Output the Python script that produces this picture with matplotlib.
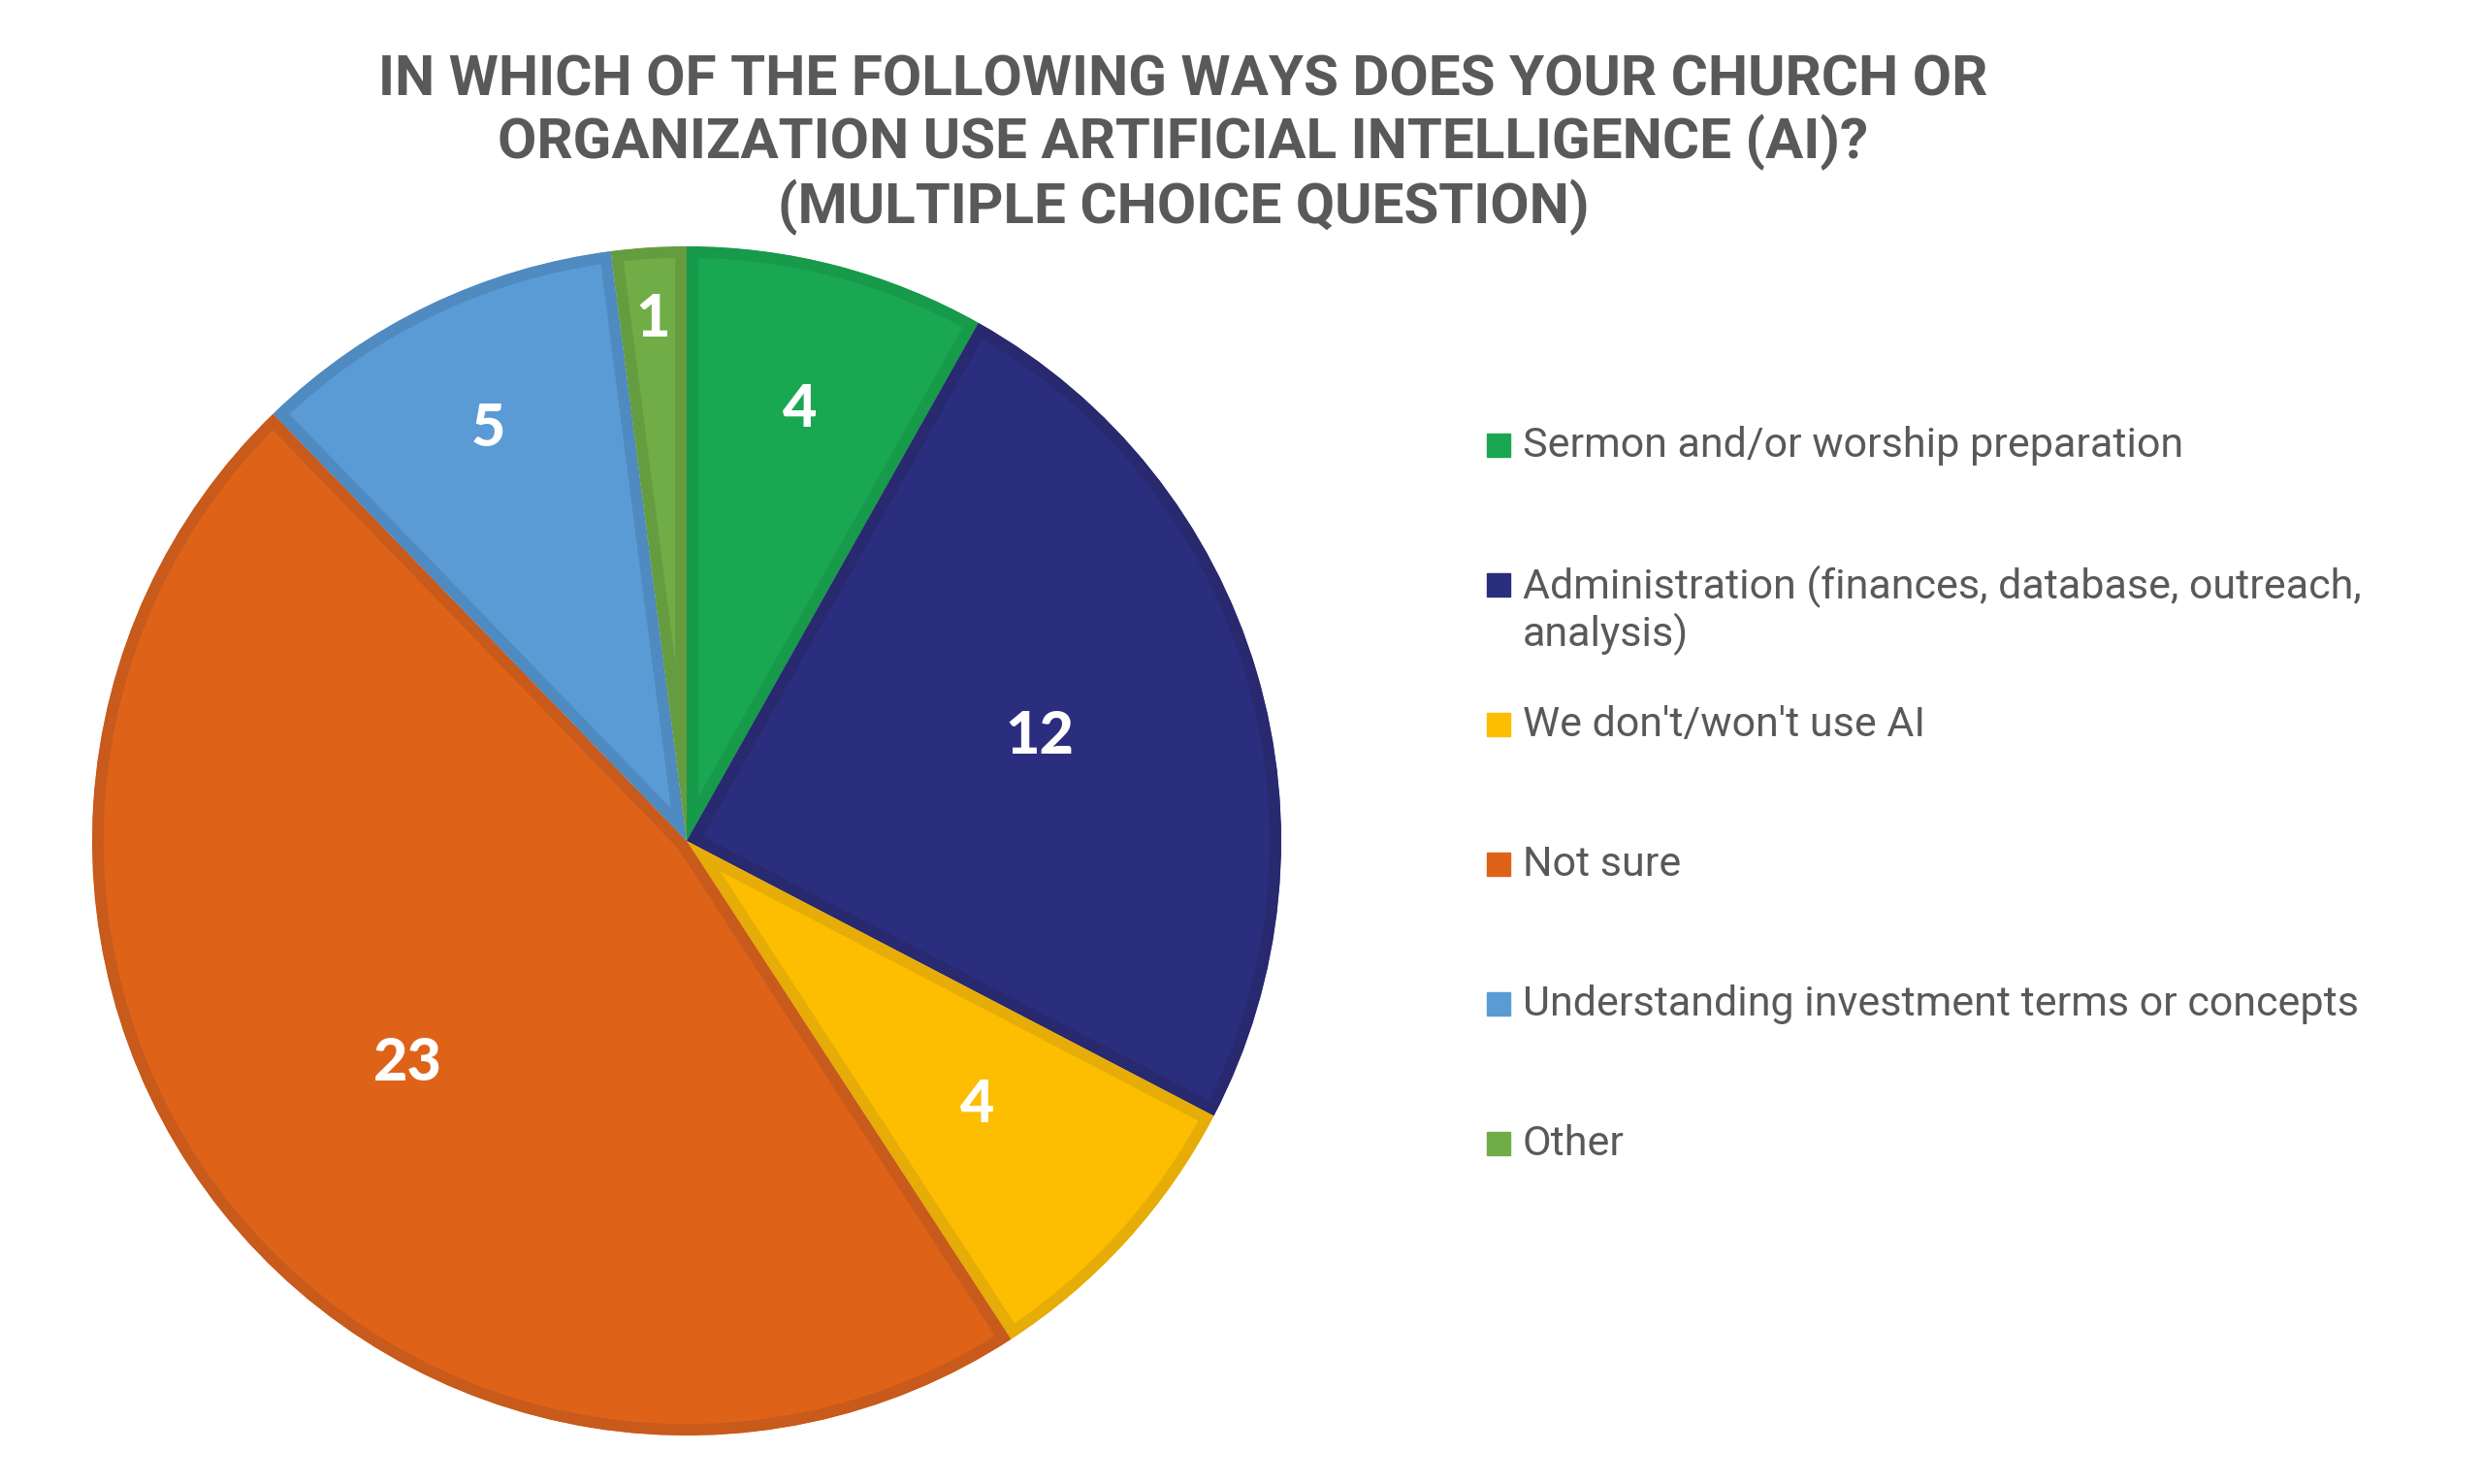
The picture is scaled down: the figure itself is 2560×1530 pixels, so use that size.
"""Pie chart: ways churches/organizations use AI (multiple choice)."""
import matplotlib.pyplot as plt
import numpy as np
from matplotlib.patches import Rectangle

CATEGORIES = [
    "Sermon and/or worship preparation",
    "Administration (finances, database, outreach,\nanalysis)",
    "We don't/won't use AI",
    "Not sure",
    "Understanding investment terms or concepts",
    "Other",
]
COUNTS = [4, 12, 4, 23, 5, 1]

FILLS = ["#1AA752", "#2B2D7E", "#FDBD00", "#DE6319", "#5B9BD5", "#70AD47"]
EDGES = ["#179A4A", "#28296F", "#E6AC07", "#C85A1B", "#4F8AC0", "#669C40"]
# radial position of each value label, as a fraction of the radius
LABEL_R = [0.75, 0.62, 0.66, 0.60, 0.77, 0.88]

TITLE = ("IN WHICH OF THE FOLLOWING WAYS DOES YOUR CHURCH OR\n"
         "ORGANIZATION USE ARTIFICIAL INTELLIGENCE (AI)?\n"
         "(MULTIPLE CHOICE QUESTION)")

GREY = "#595959"
W, H = 2560, 1530

fig = plt.figure(figsize=(W / 100, H / 100), dpi=100)

cx, cy, r = 708, 867, 613
ax = fig.add_axes([(cx - r) / W, (H - cy - r) / H, 2 * r / W, 2 * r / H])
wedges, _ = ax.pie(COUNTS, colors=FILLS, startangle=90, counterclock=False,
                   radius=1.0,
                   wedgeprops=dict(linewidth=17, joinstyle="round"))
for w, ec in zip(wedges, EDGES):
    w.set_edgecolor(ec)
    # keep only the inner half of the outline (Excel-style inner border)
    w.set_clip_on(True)
    w.set_clip_path(w.get_path(), w.get_transform())

for w, v, lr in zip(wedges, COUNTS, LABEL_R):
    ang = np.deg2rad((w.theta1 + w.theta2) / 2)
    ax.text(lr * np.cos(ang), lr * np.sin(ang), str(v), ha="center",
            va="center", color="white", fontsize=44, fontweight="black",
            family="Lato")
ax.set_xlim(-1, 1)
ax.set_ylim(-1, 1)
ax.set_aspect("equal")
ax.axis("off")

fig.text(1220 / W, 1 - 149 / H, TITLE, ha="center", va="center",
         fontsize=42, fontweight="bold", color=GREY, family="Roboto",
         linespacing=1.17)

# legend, drawn as fixed rows
row0, step, line_h = 459, 144, 51
for i, (lab, col) in enumerate(zip(CATEGORIES, FILLS)):
    yc = row0 + i * step
    fig.patches.append(Rectangle((1533 / W, 1 - (yc + 12) / H), 24 / W, 24 / H,
                                 transform=fig.transFigure, color=col))
    # baseline alignment follows the last line, so push multi-line labels down
    n_extra = lab.count("\n")
    fig.text(1570 / W, 1 - (yc + 12 + n_extra * line_h) / H, lab, ha="left",
             va="baseline", fontsize=31, color=GREY, family="Roboto",
             linespacing=1.15)

fig.savefig("out.png", dpi=100)
